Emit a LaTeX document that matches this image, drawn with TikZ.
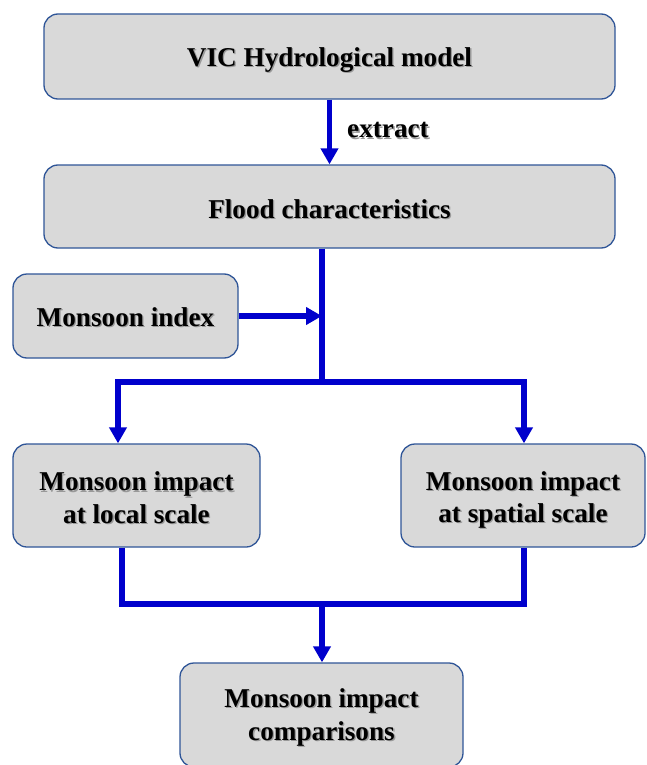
\documentclass[tikz,border=0pt]{standalone}
\usepackage{fontspec}
\setmainfont{Liberation Serif}
\usetikzlibrary{arrows.meta}
\definecolor{boxfill}{RGB}{217,217,217}
\definecolor{boxline}{RGB}{47,85,151}
\definecolor{flow}{RGB}{0,0,204}
\newcommand\shd[2][3pt]{\raisebox{-#1}[\height][\depth]{\rlap{\hspace{1.3pt}\raisebox{-1.3pt}{\textcolor{black!40}{#2}}}#2}}
\begin{document}
\begin{tikzpicture}[x=1pt,y=-1pt,
  box/.style={draw=boxline, line width=1.3pt, fill=boxfill, rounded corners=14pt,
    inner sep=0pt, align=center, font=\bfseries\fontsize{27.2}{32.5}\selectfont},
  lab/.style={inner sep=0pt, font=\bfseries\fontsize{27.2}{32.5}\selectfont},
  fline/.style={draw=flow, line width=5.5pt, line join=miter},
  arr/.style={fline, -{Triangle[length=16pt,width=17pt]}}]
\useasboundingbox (0,0) rectangle (646,765);
\clip (0,0) rectangle (646,765);
\node[box, minimum width=571pt, minimum height=85pt] (vic) at (329.5,56.5) {\shd[4pt]{VIC Hydrological model}};
\node[box, minimum width=571pt, minimum height=83pt] (flood) at (329.5,206.5) {\shd[3pt]{Flood characteristics}};
\node[box, minimum width=225pt, minimum height=84pt] (idx) at (125.5,316) {\shd[1.5pt]{Monsoon index}};
\node[box, minimum width=247pt, minimum height=103pt] (local) at (136.5,495.5) {\shd{Monsoon impact}\\\shd{at local scale}};
\node[box, minimum width=244pt, minimum height=103pt] (spat) at (523,495.5) {\shd[5pt]{Monsoon impact}\\\shd[5pt]{at spatial scale}};
\node[box, minimum width=283pt, minimum height=104pt] (comp) at (321.5,715) {\shd{Monsoon impact}\\\shd{comparisons}};
\node[lab] (ex) at (388,129) {\shd[2pt]{extract}};
\coordinate (j1) at (322,317);
\coordinate (j2) at (322,382);
\coordinate (l1) at (118,382);
\coordinate (r1) at (524,382);
\coordinate (l2) at (122,604);
\coordinate (r2) at (524,604);
\coordinate (m2) at (322,604);
\draw[arr] (vic.south) -- (flood.north);
\draw[fline] (flood.south -| j2) -- (j2);
\draw[arr] (idx.east) -- (idx.east -| j1);
\draw[arr] (j2) -- (l1) -- (l1 |- local.north);
\draw[arr] (j2) -- (r1) -- (r1 |- spat.north);
\draw[fline] (l2 |- local.south) -- (l2) -- (r2) -- (r2 |- spat.south);
\draw[arr] (m2) -- (m2 |- comp.north);
\end{tikzpicture}
\end{document}
